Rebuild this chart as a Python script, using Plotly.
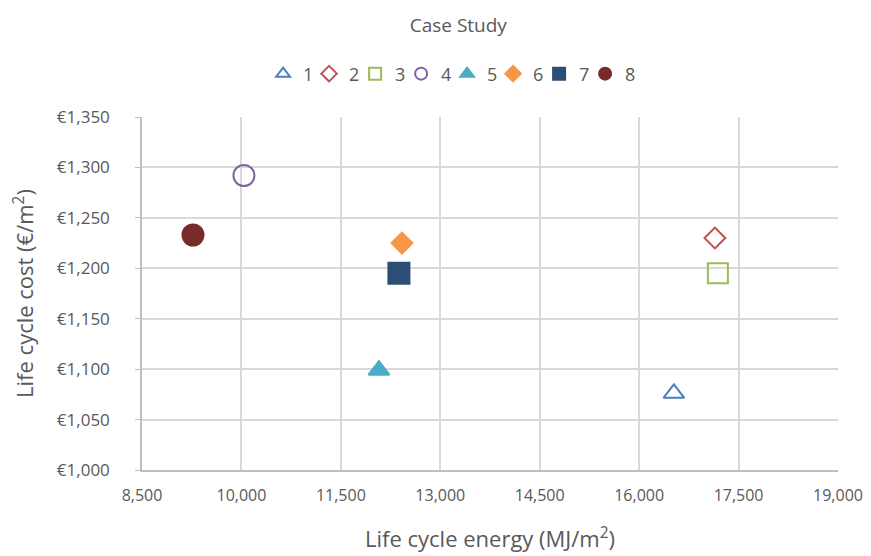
import plotly.graph_objects as go

names = ["1", "2", "3", "4", "5", "6", "7", "8"]
energy = [16524, 17143, 17188, 10038, 12075, 12422, 12376, 9269]
cost = [1076, 1230, 1195, 1292, 1099, 1225, 1195, 1233]
symbols = ["triangle-up-open", "diamond-open", "square-open", "circle-open",
           "triangle-up", "diamond", "square", "circle"]
colors = ["#4a7ebb", "#c0504d", "#9bbb59", "#8064a2",
          "#4bacc6", "#f79646", "#2c4d75", "#772c2a"]
sizes = [18, 16, 20, 21, 18, 16, 21, 21]

xticks = [8500, 10000, 11500, 13000, 14500, 16000, 17500, 19000]
xticktext = ["8,500", "10,000", "11,500", "13,000", "14,500", "16,000", "17,500", "19,000"]
yticks = [1000, 1050, 1100, 1150, 1200, 1250, 1300, 1350]
yticktext = ["€1,000", "€1,050", "€1,100", "€1,150", "€1,200", "€1,250", "€1,300", "€1,350"]

font = "Open Sans"
grey = "#595959"

fig = go.Figure()
for n, x, y, s, c, sz in zip(names, energy, cost, symbols, colors, sizes):
    fig.add_trace(go.Scatter(
        x=[x], y=[y], mode="markers", name=n,
        marker=dict(symbol=s, color=c, size=sz, line=dict(color=c, width=2)),
    ))
# invisible spacer entry so the last legend label is not clipped
fig.add_trace(go.Scatter(
    x=[None], y=[None], mode="markers", name=" ", hoverinfo="skip",
    marker=dict(color="rgba(0,0,0,0)", size=1), showlegend=True,
))

fig.update_layout(
    width=871, height=556,
    margin=dict(l=134, r=41, t=109, b=94, autoexpand=False),
    paper_bgcolor="white", plot_bgcolor="white",
    font=dict(family=font, color=grey, size=16),
    title=dict(text="Case Study", x=0.517, xanchor="center", y=0.969, yanchor="middle",
               font=dict(size=19, color=grey, family=font)),
    legend=dict(orientation="h", x=0.174, xanchor="left", y=1.122, yanchor="middle",
                font=dict(size=18, color=grey), entrywidth=1, entrywidthmode="pixels",
                itemsizing="constant", bgcolor="rgba(0,0,0,0)"),
    showlegend=True,
)
fig.update_xaxes(
    range=[8500, 19000], tickvals=xticks, ticktext=xticktext,
    showgrid=True, gridcolor="#d9d9d9", gridwidth=1.5,
    showline=True, linecolor="#bfbfbf", linewidth=1.5,
    ticks="", automargin=False, ticklabelstandoff=10,
    zeroline=False, tickfont=dict(size=16, color=grey),
    title=dict(text="Life cycle energy (MJ/m<sup>2</sup>)", font=dict(size=22, color=grey), standoff=27),
)
fig.update_yaxes(
    range=[1000, 1350], tickvals=yticks, ticktext=yticktext,
    showgrid=True, gridcolor="#d9d9d9", gridwidth=1.5,
    showline=True, linecolor="#bfbfbf", linewidth=1.5,
    ticks="outside", ticklen=5, tickcolor="#bfbfbf", automargin=False,
    ticklabelstandoff=22,
    zeroline=False, tickfont=dict(size=17, color=grey),
    title=dict(text="Life cycle cost (€/m<sup>2</sup>)", font=dict(size=22, color=grey), standoff=17),
)

fig.write_html("out.html")
